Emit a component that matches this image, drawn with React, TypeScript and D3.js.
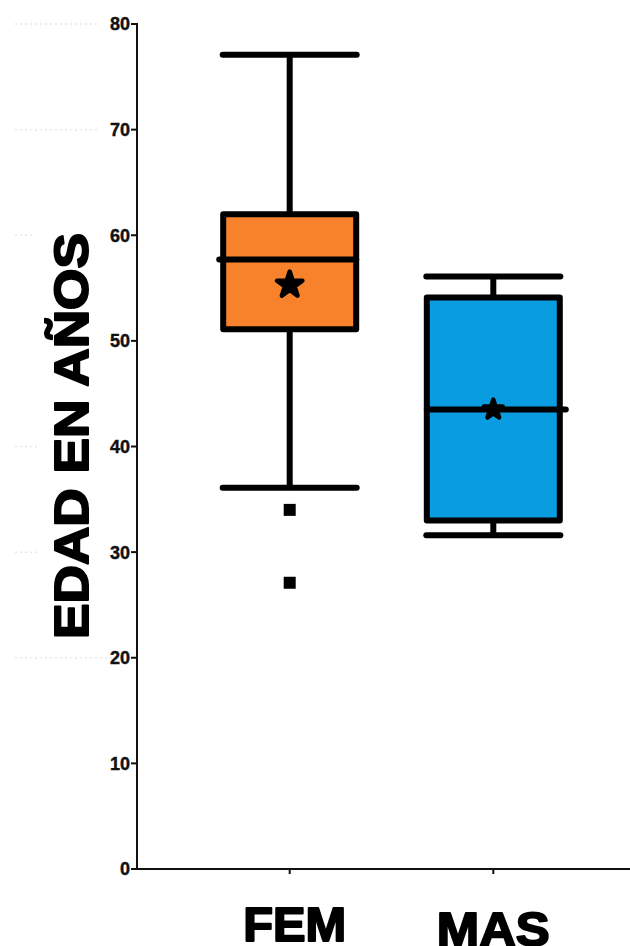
import React from "react";
import * as d3 from "d3";

const categories = ["FEM", "MAS"];
const whiskerHigh = [77.1, 56.1];
const q3 = [62.0, 54.1];
const median = [57.7, 43.5];
const q1 = [51.1, 33.0];
const whiskerLow = [36.1, 31.6];
const means = [55.3, 43.5];
const outliers = [[34.0, 27.1], []];
const yTicks = [0, 10, 20, 30, 40, 50, 60, 70, 80];
const fills = ["#F7822B", "#0A9CE0"];
const yTitle = "EDAD EN AÑOS";

const W = 630;
const H = 946;
const axisX = 137;
const axisY = 869;

export default function App() {
  const y = d3.scaleLinear().domain([0, 80]).range([axisY, 24]);
  const x = d3.scalePoint<string>().domain(categories).range([axisX, 646]).padding(0.75);
  const boxHalf = 66.5;
  const capHalf = 67;
  const star = d3.symbol().type(d3.symbolStar).size(200)();
  const starSmall = d3.symbol().type(d3.symbolStar).size(110)();
  const lw = 6;
  const font = "Liberation Sans, Arial, sans-serif";
  const faint = [
    { v: 80, x1: 15, x2: 100 },
    { v: 70, x1: 15, x2: 100 },
    { v: 60, x1: 15, x2: 35 },
    { v: 40, x1: 15, x2: 37 },
    { v: 30, x1: 15, x2: 37 },
    { v: 20, x1: 15, x2: 125 },
  ];
  return (
    <div style={{ position: "absolute", left: 0, top: 0 }}>
      <svg width={W} height={H} style={{ display: "block", background: "#fff" }}>
        {faint.map((f, i) => (
          <line key={i} x1={f.x1} x2={f.x2} y1={y(f.v)} y2={y(f.v)} stroke="#e8e8e8" strokeWidth={1.5} strokeDasharray="2 3" />
        ))}
        {/* axes */}
        <line x1={axisX} x2={axisX} y1={y(80) - 1} y2={axisY + 1} stroke="#111" strokeWidth={2} />
        <line x1={axisX - 1} x2={W} y1={axisY} y2={axisY} stroke="#111" strokeWidth={2} />
        {yTicks.map((t) => (
          <g key={t}>
            <line x1={axisX - 6} x2={axisX} y1={y(t)} y2={y(t)} stroke="#111" strokeWidth={2} />
            <text x={axisX - 7} y={y(t)} dy="0.36em" textAnchor="end" fontFamily={font} fontWeight="bold" fontSize={18} fill="#111" stroke="#111" strokeWidth={0.4}>
              {t}
            </text>
          </g>
        ))}
        {categories.map((c) => (
          <line key={c} x1={x(c)} x2={x(c)} y1={axisY} y2={axisY + 5} stroke="#111" strokeWidth={2} />
        ))}
        {categories.map((c, i) => (
          <text key={c} x={(x(c) as number) + (i === 0 ? 5 : 0)} y={i === 0 ? 941 : 946} textAnchor="middle" fontFamily={font} fontWeight="bold" fontSize={48} fill="#000" stroke="#000" strokeWidth={2} strokeLinejoin="round" textLength={i === 0 ? 103 : 113} lengthAdjust="spacingAndGlyphs">
            {c}
          </text>
        ))}
        <text transform={`translate(88,436) rotate(-90)`} textAnchor="middle" fontFamily={font} fontWeight="bold" fontSize={48} fill="#000" stroke="#000" strokeWidth={2} strokeLinejoin="round" textLength={406} lengthAdjust="spacingAndGlyphs">
          {yTitle}
        </text>
        {/* boxes */}
        {categories.map((c, i) => {
          const cx = x(c) as number;
          return (
            <g key={c} stroke="#000" strokeWidth={lw}>
              <line x1={cx} x2={cx} y1={y(whiskerHigh[i])} y2={y(q3[i])} />
              <line x1={cx} x2={cx} y1={y(q1[i])} y2={y(whiskerLow[i])} />
              <line x1={cx - capHalf} x2={cx + capHalf} y1={y(whiskerHigh[i])} y2={y(whiskerHigh[i])} strokeLinecap="round" />
              <line x1={cx - capHalf} x2={cx + capHalf} y1={y(whiskerLow[i])} y2={y(whiskerLow[i])} strokeLinecap="round" />
              <rect x={cx - boxHalf} y={y(q3[i])} width={boxHalf * 2} height={y(q1[i]) - y(q3[i])} fill={fills[i]} strokeLinejoin="round" />
              <line x1={cx - boxHalf - (i === 0 ? 4 : 0)} x2={cx + boxHalf + (i === 1 ? 6 : 0)} y1={y(median[i])} y2={y(median[i])} strokeLinecap="round" />
              <path d={i === 0 ? star : starSmall} transform={`translate(${cx},${y(means[i])})`} fill="#000" strokeWidth={4.5} strokeLinejoin="round" />
              {outliers[i].map((o, j) => (
                <rect key={j} x={cx - 6} y={y(o) - 6} width={12} height={12} fill="#000" stroke="none" />
              ))}
            </g>
          );
        })}
      </svg>
    </div>
  );
}
